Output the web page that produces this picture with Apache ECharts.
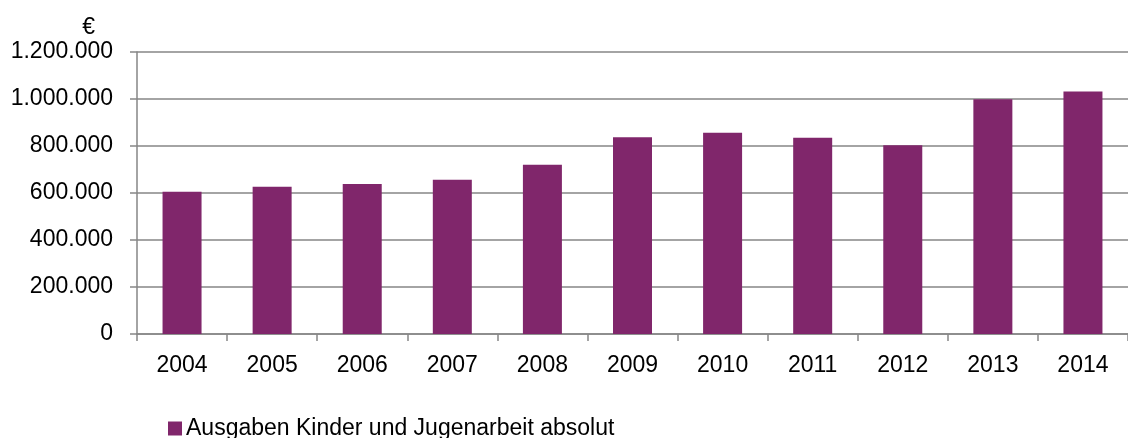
<!DOCTYPE html>
<html>
<head>
<meta charset="utf-8">
<script src="https://cdn.jsdelivr.net/npm/echarts@6/dist/echarts.min.js"></script>
<style>
  html, body { margin: 0; padding: 0; background: #fff; }
  #chart { width: 1128px; height: 438px; }
</style>
</head>
<body>
<div id="chart"></div>
<script>
const years = ["2004", "2005", "2006", "2007", "2008", "2009", "2010", "2011", "2012", "2013", "2014"];
const ausgaben = [605000, 627000, 638000, 656000, 720000, 837000, 856000, 835000, 803000, 999000, 1032000];
const seriesName = "Ausgaben Kinder und Jugenarbeit absolut";

// Tausenderpunkte wie im Original
const fmt = (v) => String(v).replace(/\B(?=(\d{3})+(?!\d))/g, ".");

const chart = echarts.init(document.getElementById("chart"));
chart.setOption({
  animation: false,
  textStyle: { fontFamily: "Liberation Sans, Arial, sans-serif" },
  grid: { left: 137, top: 52, width: 1002, height: 282 },
  legend: {
    data: [seriesName],
    left: 163,
    top: 412,
    icon: "rect",
    itemWidth: 14,
    itemHeight: 14,
    itemGap: 10,
    textStyle: { fontSize: 23, color: "#000", padding: [0, 0, 0, -1] },
  },
  xAxis: {
    type: "category",
    data: years,
    axisLine: { lineStyle: { color: "#868686", width: 1.5 } },
    axisTick: { show: true, length: 7, lineStyle: { color: "#868686", width: 1.5 } },
    axisLabel: { fontSize: 23, color: "#000", margin: 20 },
  },
  yAxis: {
    type: "value",
    min: 0,
    max: 1200000,
    interval: 200000,
    name: "€",
    nameLocation: "end",
    nameGap: 24,
    nameTextStyle: { fontSize: 23, color: "#000", align: "right", verticalAlign: "middle", padding: [0, 42, 0, 0] },
    axisLine: { show: true, lineStyle: { color: "#868686", width: 1.5 } },
    axisTick: { show: true, length: 7, lineStyle: { color: "#868686", width: 1.5 } },
    axisLabel: { fontSize: 23, color: "#000", margin: 24, formatter: fmt },
    splitLine: { lineStyle: { color: "#868686", width: 1.5 } },
  },
  series: [
    {
      name: seriesName,
      type: "bar",
      data: ausgaben,
      barWidth: 39,
      itemStyle: { color: "#80266B" },
    },
  ],
});
</script>
</body>
</html>
